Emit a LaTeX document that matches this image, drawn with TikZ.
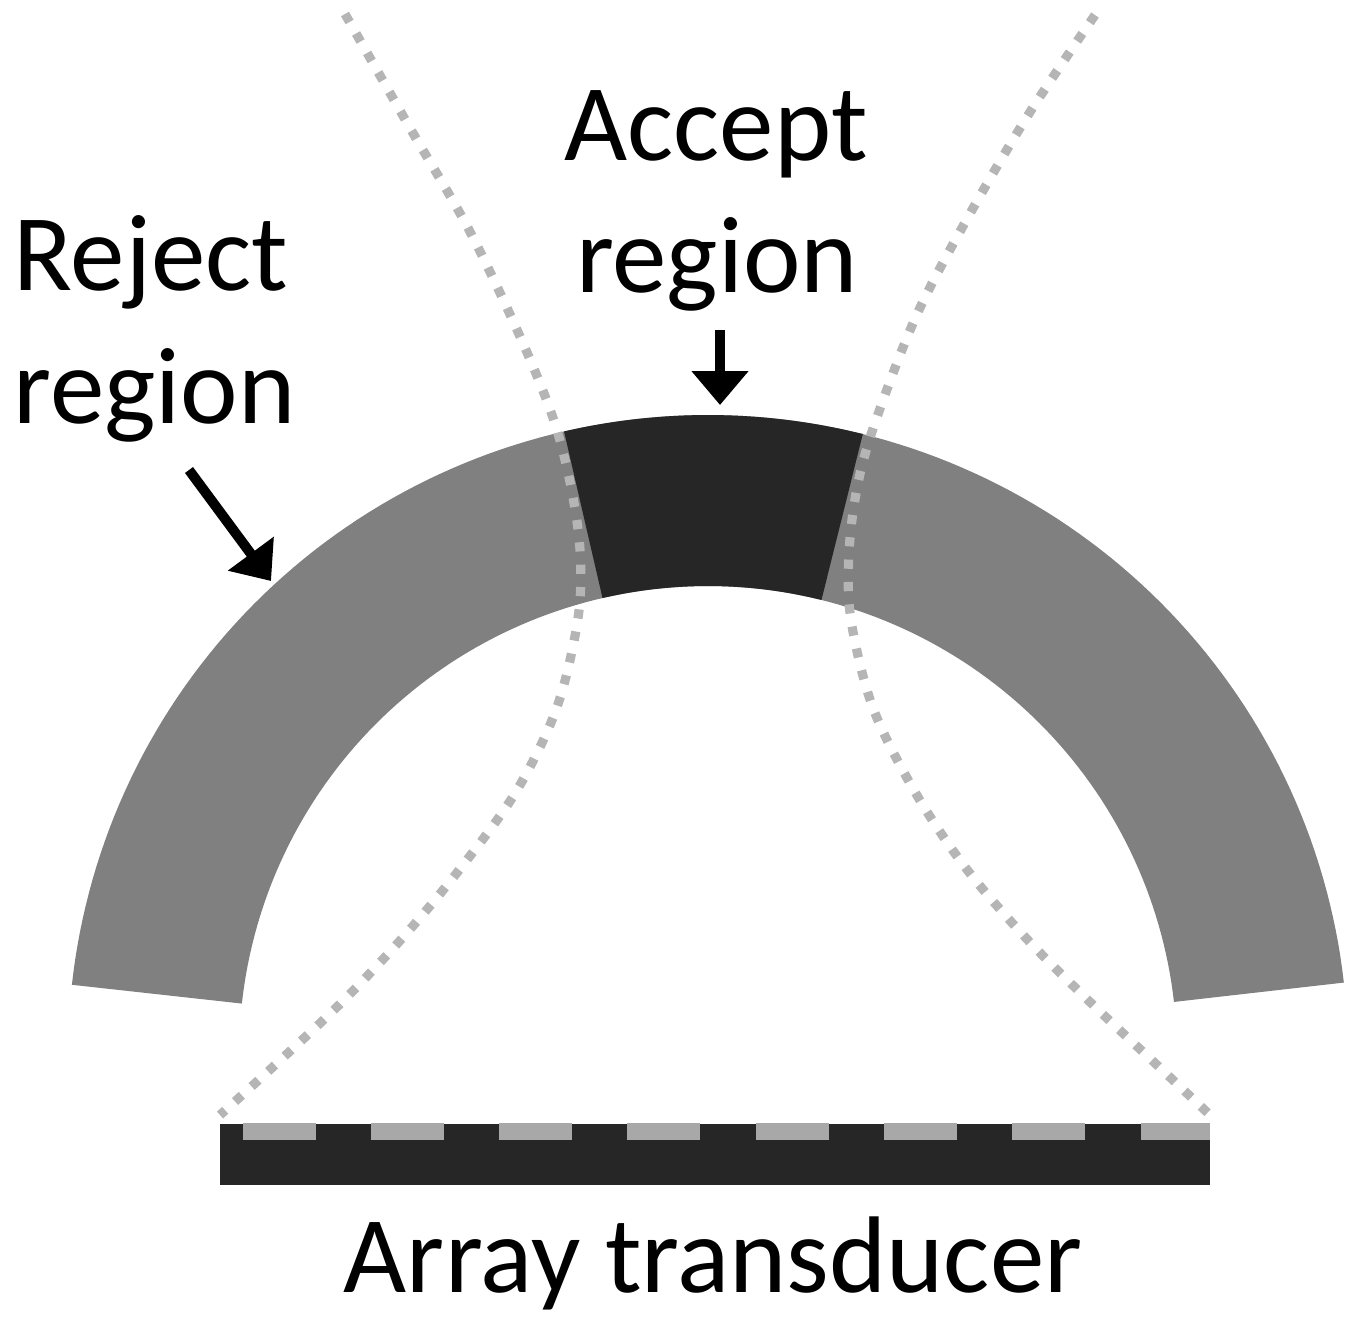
\documentclass[tikz,border=0pt]{standalone}
\usepackage{fontspec}
\setmainfont{Carlito}
\usetikzlibrary{arrows.meta}

\definecolor{rejectgray}{gray}{0.50}
\definecolor{acceptdark}{gray}{0.15}
\definecolor{dotgray}{gray}{0.71}
\definecolor{padgray}{gray}{0.66}

\begin{document}
\begin{tikzpicture}[x=0.5pt, y=-0.5pt,
  lbl/.style={font=\fontsize{54.5}{65}\selectfont, inner sep=0pt, text=black},
  pointer/.style={line width=5pt, -{Triangle[length=17pt, width=27.5pt]}},
  beam/.style={draw=dotgray, line width=4.6pt, dash pattern=on 4.6pt off 6.6pt},
  rejectfill/.style={fill=rejectgray},
  acceptfill/.style={fill=acceptdark},
  padfill/.style={fill=padgray}]

\path[use as bounding box] (0,0) rectangle (1358,1319);

% annulus centre and radii (pixel units, y downwards)
\def\cx{708}
\def\cy{1055}
\def\Ro{640}
\def\Ri{469}

% reject band (whole annulus sector)
\fill[rejectfill]
  plot[domain=6.5:173.7, samples=140] ({\cx+\Ro*cos(\x)},{\cy-\Ro*sin(\x)})
  -- plot[domain=173.7:6.5, samples=140] ({\cx+\Ri*cos(\x)},{\cy-\Ri*sin(\x)})
  -- cycle;

% accept band
\fill[acceptfill]
  plot[domain=76:103, samples=40] ({\cx+\Ro*cos(\x)},{\cy-\Ro*sin(\x)})
  -- plot[domain=103:76, samples=40] ({\cx+\Ri*cos(\x)},{\cy-\Ri*sin(\x)})
  -- cycle;

% beam edges
\draw[beam] plot[smooth, tension=0.55] coordinates {
  (345,14) (410,128) (468,228) (518,332) (552,415) (570,482) (580,550)
  (578,618) (557,707) (517,790) (463,865) (405,935) (342,1002) (275,1065) (220,1115)};
\draw[beam] plot[smooth, tension=0.55] coordinates {
  (1095,15) (1030,112) (972,210) (918,312) (877,417) (858,483) (849,552)
  (851,620) (873,708) (915,792) (965,867) (1025,937) (1090,1002) (1157,1065) (1210,1115)};

% array transducer with its elements
\fill[acceptfill] (220,1124) rectangle (1210,1185);
\foreach \e in {243,371,499,627,756,884,1012}
  \fill[padfill] (\e,1123) rectangle (\e+73,1140);
\fill[padfill] (1141,1123) rectangle (1210,1140);

% labels
\node[lbl, anchor=base west] (rej1) at (13,290) {Reject};
\node[lbl, anchor=base west] (rej2) at (13,423) {region};
\node[lbl, anchor=base] (acc1) at (716,160) {Accept};
\node[lbl, anchor=base] (acc2) at (717,292) {region};
\node[lbl, anchor=base] (arr) at (713,1292) {Array transducer};

% pointers
\coordinate (accfrom) at (720,330);
\coordinate (accto) at (720,405);
\coordinate (rejfrom) at (189,470);
\coordinate (rejto) at (271,581);
\draw[pointer] (accfrom) -- (accto);
\draw[pointer] (rejfrom) -- (rejto);

\end{tikzpicture}
\end{document}
